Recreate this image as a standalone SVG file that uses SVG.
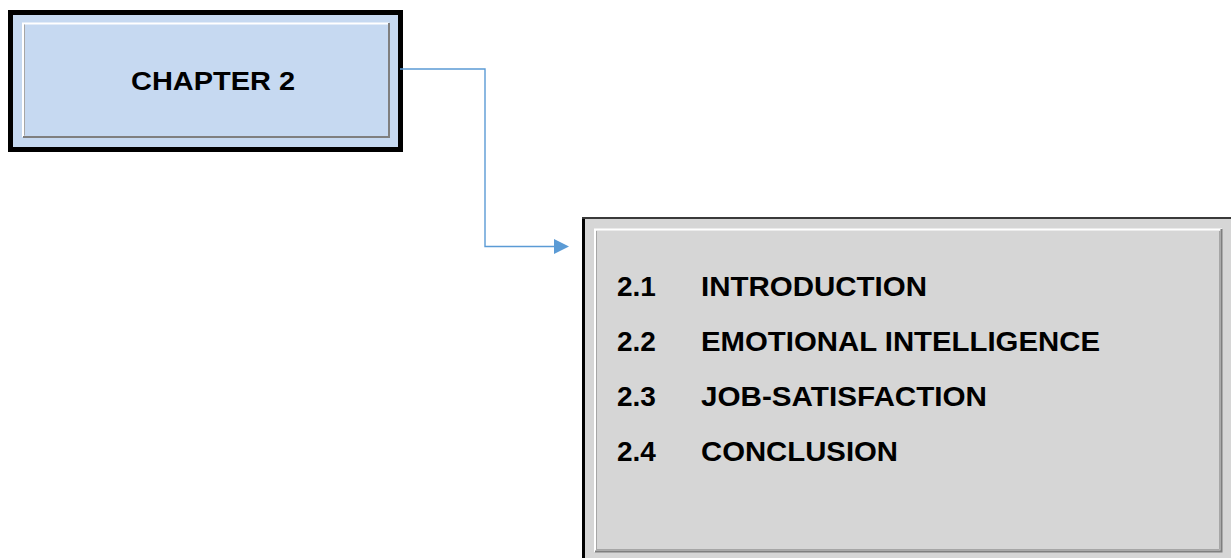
<svg xmlns="http://www.w3.org/2000/svg" width="1231" height="558" viewBox="0 0 1231 558">
  <style>
    .label { font-family: "Liberation Sans", Arial, sans-serif; font-weight: bold; fill: #000; }
    .title { font-size: 26.5px; }
    .item { font-size: 28px; }
    .conn { fill: none; stroke: #5B9BD5; stroke-width: 1.4; }
    .hi { stroke: #FFFFFF; stroke-width: 2; fill: none; }
    .lo { stroke: #7F7F7F; stroke-width: 2; fill: none; }
    .lo2 { stroke: #A6A6A6; stroke-width: 1; fill: none; }
  </style>
  <defs>
    <marker id="arrow" viewBox="0 0 15 15" refX="0" refY="7.5" markerWidth="15" markerHeight="15" markerUnits="userSpaceOnUse" orient="auto">
      <path d="M0,0 L15,7.5 L0,15 Z" fill="#5B9BD5"/>
    </marker>
  </defs>

  <rect x="0" y="0" width="1231" height="558" fill="#FFFFFF"/>

  <!-- Chapter heading box -->
  <g id="chapter">
    <rect x="10.5" y="12.5" width="390" height="137" fill="#C6D9F1" stroke="#000" stroke-width="5"/>
    <!-- raised bevel -->
    <path class="hi" d="M23,137 V23.5 H389"/>
    <path class="lo" d="M389,23 V137 H23"/>
    <path class="lo2" d="M24.5,135.5 V24.5"/>
    <text class="label title" x="131" y="90" textLength="164" lengthAdjust="spacingAndGlyphs">CHAPTER 2</text>
  </g>

  <!-- Contents box -->
  <g id="contents">
    <rect x="582" y="217" width="660" height="350" fill="#D6D6D6"/>
    <path d="M583.5,558 V218" stroke="#000" stroke-width="3" fill="none"/>
    <path d="M582,218 H1231" stroke="#3A3A3A" stroke-width="2" fill="none"/>
    <!-- raised bevel -->
    <path class="hi" d="M595,552 V229.5 H1222"/>
    <path class="lo" d="M1221.5,229 V551.5 H595"/>
    <path class="lo2" d="M1219.5,231 V549.5 H597"/>
    <path class="lo2" d="M596.5,550 V231"/>
    <text class="label item" x="617" y="296">2.1</text>
    <text class="label item" x="701" y="296" textLength="226" lengthAdjust="spacingAndGlyphs">INTRODUCTION</text>
    <text class="label item" x="617" y="351">2.2</text>
    <text class="label item" x="701" y="351" textLength="399" lengthAdjust="spacingAndGlyphs">EMOTIONAL INTELLIGENCE</text>
    <text class="label item" x="617" y="406">2.3</text>
    <text class="label item" x="701" y="406" textLength="286" lengthAdjust="spacingAndGlyphs">JOB-SATISFACTION</text>
    <text class="label item" x="617" y="461">2.4</text>
    <text class="label item" x="701" y="461" textLength="197" lengthAdjust="spacingAndGlyphs">CONCLUSION</text>
  </g>

  <!-- Connectors -->
  <g id="connectors">
    <path class="conn" d="M400,69 H485 V246.5 H554" marker-end="url(#arrow)"/>
  </g>
</svg>
